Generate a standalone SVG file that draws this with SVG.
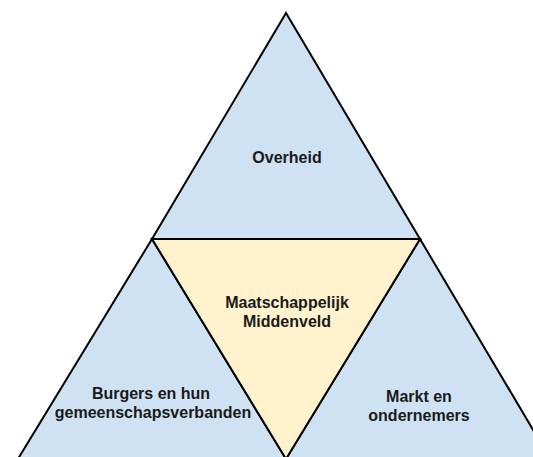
<svg xmlns="http://www.w3.org/2000/svg" width="533" height="457" viewBox="0 0 533 457">
  <style>
    .tri { stroke: #000000; stroke-width: 2; stroke-linejoin: miter; }
    .blue { fill: #cfe2f3; }
    .yellow { fill: #fff2cc; }
    .label { font-family: "Liberation Sans", Arial, sans-serif; font-size: 16px; font-weight: bold; fill: #1a1a1a; text-anchor: middle; }
  </style>
  <rect width="533" height="457" fill="#ffffff"/>

  <g id="overheid">
    <polygon class="tri blue" points="286,13 152,239 420,239"/>
    <text class="label" x="287" y="163">Overheid</text>
  </g>

  <g id="burgers">
    <polygon class="tri blue" points="152,239 10,472 294,472"/>
    <text class="label" x="151" y="399">Burgers en hun</text>
    <text class="label" x="153" y="418">gemeenschapsverbanden</text>
  </g>

  <g id="markt">
    <polygon class="tri blue" points="420,239 278,472 558,472"/>
    <text class="label" x="419" y="402">Markt en</text>
    <text class="label" x="419" y="421">ondernemers</text>
  </g>

  <g id="middenveld">
    <polygon class="tri yellow" points="152,239 420,239 286,459"/>
    <text class="label" x="287" y="308">Maatschappelijk</text>
    <text class="label" x="287" y="327">Middenveld</text>
  </g>

  <g id="connectors"></g>
</svg>
